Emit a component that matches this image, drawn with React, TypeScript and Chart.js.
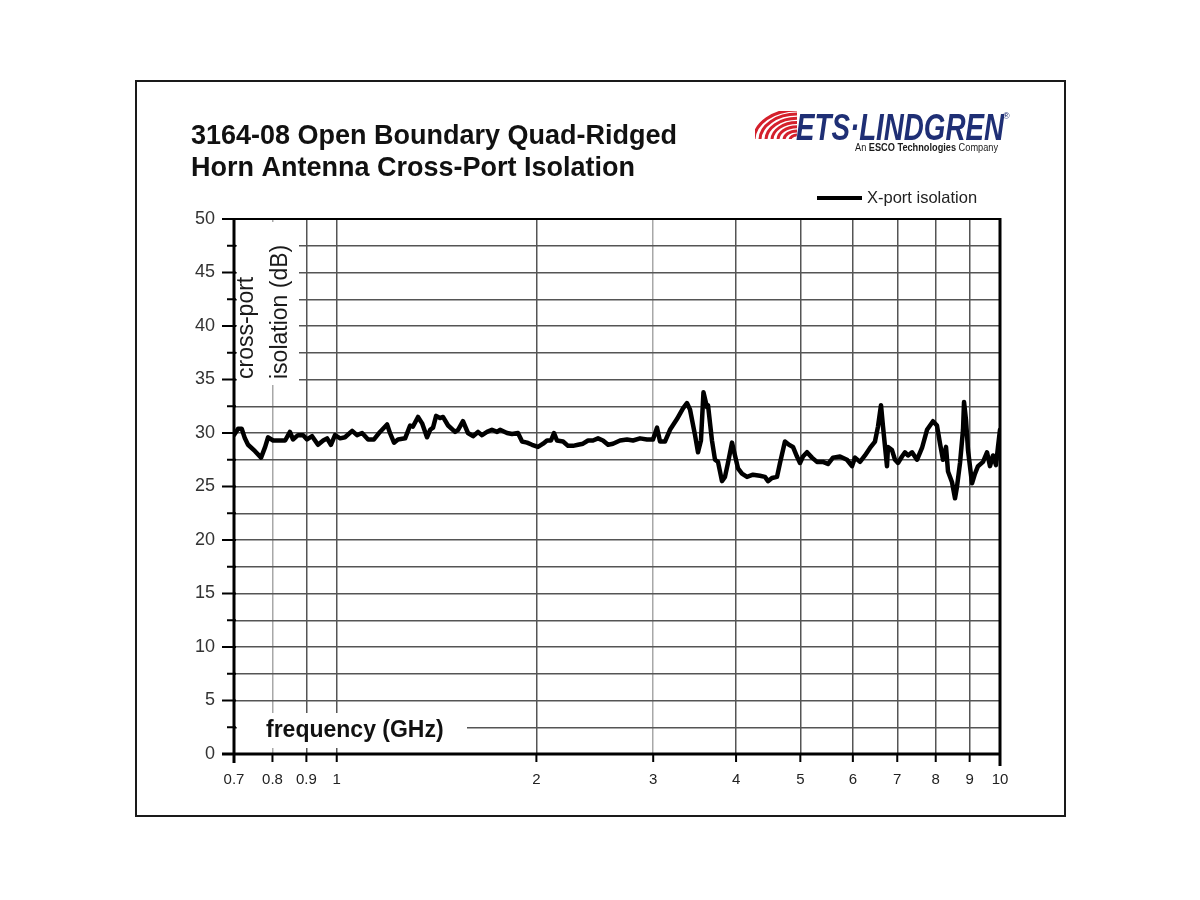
import React, { useEffect, useRef } from "react";
import { Chart, registerables } from "chart.js";

Chart.register(...registerables);

// ---- data ----
const freqGHz = [
  0.700, 0.710, 0.719, 0.727, 0.735, 0.753, 0.769, 0.780, 0.788, 0.802,
  0.816, 0.836, 0.850, 0.859, 0.874, 0.890, 0.902, 0.918, 0.937, 0.954,
  0.967, 0.980, 0.994, 1.012, 1.029, 1.055, 1.073, 1.092, 1.115, 1.138,
  1.162, 1.191, 1.203, 1.220, 1.237, 1.268, 1.290, 1.303, 1.326, 1.345,
  1.368, 1.383, 1.397, 1.412, 1.431, 1.446, 1.472, 1.508, 1.524, 1.550,
  1.577, 1.605, 1.633, 1.656, 1.685, 1.714, 1.745, 1.763, 1.806, 1.838,
  1.876, 1.903, 1.936, 1.970, 2.011, 2.047, 2.075, 2.104, 2.126, 2.148,
  2.194, 2.232, 2.271, 2.311, 2.351, 2.393, 2.434, 2.477, 2.520, 2.565,
  2.609, 2.674, 2.739, 2.797, 2.866, 2.936, 2.998, 3.040, 3.072, 3.125,
  3.180, 3.258, 3.327, 3.373, 3.409, 3.469, 3.505, 3.541, 3.572, 3.616,
  3.629, 3.679, 3.718, 3.757, 3.809, 3.849, 3.889, 3.944, 3.985, 4.027,
  4.083, 4.155, 4.242, 4.346, 4.422, 4.469, 4.531, 4.611, 4.659, 4.740,
  4.807, 4.874, 4.942, 4.994, 5.046, 5.117, 5.206, 5.297, 5.409, 5.503,
  5.600, 5.738, 5.879, 5.982, 6.045, 6.151, 6.258, 6.368, 6.479, 6.547,
  6.616, 6.662, 6.755, 6.778, 6.873, 6.945, 7.018, 7.116, 7.191, 7.266,
  7.368, 7.497, 7.628, 7.762, 7.925, 8.035, 8.120, 8.205, 8.291, 8.349,
  8.466, 8.554, 8.614, 8.704, 8.795, 8.826, 8.887, 8.949, 9.074, 9.169,
  9.265, 9.428, 9.559, 9.659, 9.760, 9.862, 9.930, 10.0,
];

const isolationDb = [
  29.8, 30.4, 30.4, 29.5, 28.9, 28.3, 27.7, 28.7, 29.6, 29.3,
  29.3, 29.3, 30.1, 29.4, 29.8, 29.8, 29.4, 29.7, 28.9, 29.3,
  29.5, 28.9, 29.8, 29.5, 29.6, 30.2, 29.8, 30.0, 29.4, 29.4,
  30.1, 30.8, 30.0, 29.1, 29.4, 29.5, 30.7, 30.6, 31.5, 30.9,
  29.6, 30.3, 30.5, 31.6, 31.4, 31.5, 30.7, 30.1, 30.3, 31.1,
  30.0, 29.7, 30.1, 29.8, 30.1, 30.3, 30.1, 30.3, 30.0, 29.9,
  30.0, 29.2, 29.1, 28.9, 28.7, 29.0, 29.3, 29.3, 30.0, 29.3,
  29.2, 28.8, 28.8, 28.9, 29.0, 29.3, 29.3, 29.5, 29.3, 28.9,
  29.0, 29.3, 29.4, 29.3, 29.5, 29.4, 29.4, 30.5, 29.2, 29.2,
  30.3, 31.3, 32.3, 32.8, 32.2, 29.8, 28.2, 29.3, 33.8, 32.4,
  32.6, 29.3, 27.5, 27.3, 25.5, 25.9, 27.2, 29.1, 27.9, 26.7,
  26.2, 25.9, 26.1, 26.0, 25.9, 25.5, 25.8, 25.9, 27.2, 29.2,
  28.9, 28.7, 27.8, 27.2, 27.8, 28.2, 27.7, 27.3, 27.3, 27.1,
  27.7, 27.8, 27.5, 26.9, 27.7, 27.3, 27.9, 28.6, 29.2, 30.6,
  32.6, 30.6, 26.9, 28.7, 28.4, 27.5, 27.2, 27.8, 28.2, 27.9,
  28.2, 27.5, 28.6, 30.3, 31.1, 30.7, 29.0, 27.5, 28.7, 26.4,
  25.4, 23.9, 25.0, 27.2, 30.3, 32.9, 31.2, 28.4, 25.3, 26.2,
  26.9, 27.3, 28.2, 26.9, 27.9, 27.0, 28.7, 30.3,
];

const xTickValues = [0.7, 0.8, 0.9, 1, 2, 3, 4, 5, 6, 7, 8, 9, 10];
const xTickLabels = ["0.7", "0.8", "0.9", "1", "2", "3", "4", "5", "6", "7", "8", "9", "10"];
const lightGridValues = [0.8, 3];
const yMin = 0;
const yMax = 50;
const yStep = 2.5;
const yLabelStep = 5;

const titleLines = [
  "3164-08 Open Boundary Quad-Ridged",
  "Horn Antenna Cross-Port Isolation",
];
const seriesLabel = "X-port isolation";
const yTitleLines = ["cross-port", "isolation (dB)"];
const xTitle = "frequency (GHz)";
const logoMain = "ETS\u00B7LINDGREN";
const logoSubParts = ["An ", "ESCO Technologies", " Company"];

const FONT = "'Liberation Sans', Arial, Helvetica, sans-serif";

const decorPlugin = {
  id: "decor",
  beforeDraw(chart: any) {
    const ctx = chart.ctx;
    ctx.save();
    ctx.fillStyle = "#ffffff";
    ctx.fillRect(0, 0, chart.width, chart.height);
    ctx.restore();
  },
  beforeDatasetsDraw(chart: any) {
    const ctx = chart.ctx;
    const a = chart.chartArea;
    const x = chart.scales.x;
    const y = chart.scales.y;
    ctx.save();

    // white boxes behind axis titles (they interrupt the grid)
    ctx.fillStyle = "#ffffff";
    ctx.fillRect(a.left + 3, a.top + 3, 62, 163);
    ctx.fillRect(a.left + 3, a.bottom - 41, 230, 35);

    // y-axis title (rotated, two lines)
    ctx.fillStyle = "#1a1a1a";
    ctx.font = `23px ${FONT}`;
    ctx.textAlign = "left";
    ctx.textBaseline = "alphabetic";
    const yTitleX = [a.left + 19, a.left + 53];
    yTitleLines.forEach((t, i) => {
      ctx.save();
      ctx.translate(yTitleX[i], a.top + 160);
      ctx.rotate(-Math.PI / 2);
      ctx.fillText(t, 0, 0);
      ctx.restore();
    });

    // x-axis title
    ctx.font = `bold 23px ${FONT}`;
    ctx.fillStyle = "#111";
    ctx.fillText(xTitle, a.left + 32, a.bottom - 17);

    // axis frame
    ctx.strokeStyle = "#000";
    ctx.lineCap = "butt";
    ctx.lineWidth = 2;
    ctx.beginPath();
    ctx.moveTo(a.left - 11, a.top);
    ctx.lineTo(a.right, a.top);
    ctx.stroke();
    ctx.lineWidth = 3;
    ctx.beginPath();
    ctx.moveTo(a.left, a.top - 1);
    ctx.lineTo(a.left, a.bottom + 9);
    ctx.moveTo(a.left - 12, a.bottom);
    ctx.lineTo(a.right + 1, a.bottom);
    ctx.moveTo(a.right, a.top - 1);
    ctx.lineTo(a.right, a.bottom + 12);
    ctx.stroke();

    // y ticks (major and minor)
    ctx.lineWidth = 2;
    ctx.beginPath();
    for (let v = yMin; v <= yMax + 1e-9; v += yStep) {
      const py = y.getPixelForValue(v);
      const major = Math.abs(v / yLabelStep - Math.round(v / yLabelStep)) < 1e-6;
      ctx.moveTo(a.left - (major ? 12 : 7), py);
      ctx.lineTo(a.left + 2, py);
    }
    ctx.stroke();

    // x ticks
    ctx.beginPath();
    xTickValues.forEach((v) => {
      const px = x.getPixelForValue(v);
      ctx.moveTo(px, a.bottom);
      ctx.lineTo(px, a.bottom + 8);
    });
    ctx.stroke();
    ctx.restore();
  },
  afterDraw(chart: any) {
    const ctx = chart.ctx;
    const a = chart.chartArea;
    ctx.save();

    // outer frame
    ctx.strokeStyle = "#1a1a1a";
    ctx.lineWidth = 2;
    ctx.strokeRect(136, 81, 929, 735);

    // title
    ctx.fillStyle = "#111";
    ctx.font = `bold 27px ${FONT}`;
    ctx.textAlign = "left";
    ctx.textBaseline = "alphabetic";
    titleLines.forEach((t, i) => ctx.fillText(t, 191, 144 + i * 32));

    // legend
    const ds = chart.data.datasets[0];
    ctx.strokeStyle = "#000";
    ctx.lineWidth = 4;
    ctx.beginPath();
    ctx.moveTo(817, a.top - 21);
    ctx.lineTo(862, a.top - 21);
    ctx.stroke();
    ctx.fillStyle = "#222";
    ctx.font = `16.5px ${FONT}`;
    ctx.textBaseline = "middle";
    ctx.fillText(ds.label, 867, a.top - 21);

    // logo: red signal waves (elliptical arcs)
    ctx.save();
    ctx.beginPath();
    ctx.moveTo(755, 111);
    ctx.lineTo(802, 111);
    ctx.lineTo(796, 139);
    ctx.lineTo(755, 139);
    ctx.closePath();
    ctx.clip();
    ctx.strokeStyle = "#d4202c";
    ctx.lineWidth = 3;
    for (let r = 7; r <= 44; r += 6) {
      ctx.beginPath();
      ctx.ellipse(797, 140, r, r * 0.7, 0, Math.PI, 1.5 * Math.PI);
      ctx.stroke();
    }
    ctx.restore();

    // logo: text
    ctx.fillStyle = "#1f2f75";
    ctx.textBaseline = "alphabetic";
    ctx.font = `italic bold 37px 'Liberation Sans Narrow', ${FONT}`;
    const w = ctx.measureText(logoMain).width;
    ctx.save();
    ctx.translate(796, 140);
    ctx.scale(208 / w, 1);
    ctx.fillText(logoMain, 0, 0);
    ctx.restore();
    ctx.font = `9px ${FONT}`;
    ctx.fillText("\u00AE", 1003, 119);

    // logo: subtitle
    ctx.fillStyle = "#1a1a1a";
    const parts = logoSubParts.map((p, i) => ({ p, bold: i === 1 }));
    const fonts = parts.map((q) => (q.bold ? `bold 11px ${FONT}` : `11px ${FONT}`));
    let total = 0;
    parts.forEach((q, i) => {
      ctx.font = fonts[i];
      total += ctx.measureText(q.p).width;
    });
    ctx.save();
    ctx.translate(855, 151);
    ctx.scale(143 / total, 1);
    let cx = 0;
    parts.forEach((q, i) => {
      ctx.font = fonts[i];
      ctx.fillText(q.p, cx, 0);
      cx += ctx.measureText(q.p).width;
    });
    ctx.restore();

    ctx.restore();
  },
};

export default function App() {
  const canvasRef = useRef<HTMLCanvasElement | null>(null);

  useEffect(() => {
    const canvas = canvasRef.current;
    if (!canvas) return;
    const chart = new Chart(canvas, {
      type: "line",
      data: {
        datasets: [
          {
            label: seriesLabel,
            data: freqGHz.map((f, i) => ({ x: f, y: isolationDb[i] })),
            borderColor: "#000",
            borderWidth: 4.5,
            pointRadius: 0,
            tension: 0,
            borderJoinStyle: "round",
            borderCapStyle: "round",
            fill: false,
          },
        ],
      },
      options: {
        responsive: false,
        animation: false,
        devicePixelRatio: 1,
        layout: { padding: { left: 0, right: 200, top: 219, bottom: 0 } },
        plugins: {
          legend: { display: false },
          title: { display: false },
          tooltip: { enabled: false },
        },
        scales: {
          x: {
            type: "logarithmic",
            min: 0.7,
            max: 10,
            afterBuildTicks: (s: any) => {
              s.ticks = xTickValues.map((v) => ({ value: v }));
            },
            afterFit: (s: any) => {
              s.height = 146;
            },
            ticks: {
              autoSkip: false,
              maxRotation: 0,
              minRotation: 0,
              padding: 17,
              color: "#222",
              font: { size: 15, family: FONT },
              callback: (_v: any, i: number) => xTickLabels[i],
            },
            grid: {
              drawTicks: false,
              lineWidth: 1.5,
              color: (c: any) =>
                c.tick && lightGridValues.includes(c.tick.value) ? "#a8a8a8" : "#555",
            },
            border: { display: false },
          },
          y: {
            min: yMin,
            max: yMax,
            afterFit: (s: any) => {
              s.width = 234;
            },
            ticks: {
              stepSize: yStep,
              padding: 19,
              color: "#333",
              font: { size: 18, family: FONT },
              callback: (v: any) => (Number(v) % yLabelStep === 0 ? String(v) : ""),
            },
            grid: { drawTicks: false, lineWidth: 1.4, color: "#555" },
            border: { display: false },
          },
        },
      },
      plugins: [decorPlugin],
    } as any);
    return () => chart.destroy();
  }, []);

  return (
    <div style={{ position: "absolute", left: 0, top: 0, width: 1200, height: 900, background: "#fff" }}>
      <canvas ref={canvasRef} width={1200} height={900} style={{ display: "block", width: 1200, height: 900 }} />
    </div>
  );
}
